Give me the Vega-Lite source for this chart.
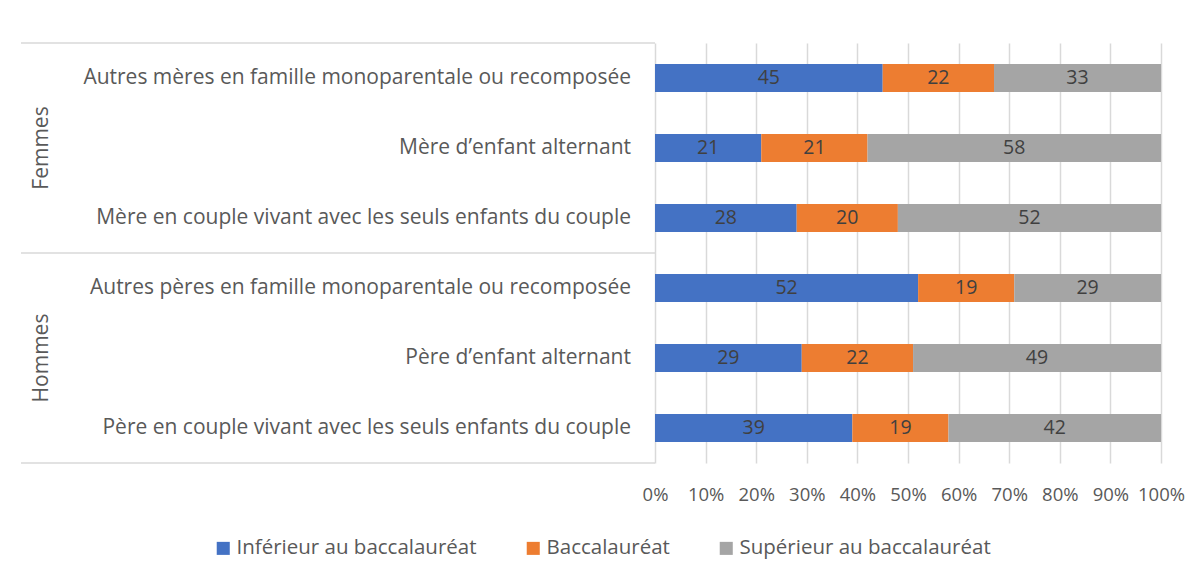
{
  "$schema": "https://vega.github.io/schema/vega-lite/v6.json",
  "padding": {"left": 20, "top": 42, "right": 10, "bottom": 10},
  "background": "white",
  "bounds": "flush",
  "config": {
    "font": "Open Sans",
    "view": {"stroke": null},
    "concat": {"spacing": 0},
    "legend": {"layout": {"bottom": {"anchor": "middle"}}}
  },
  "datasets": {
    "barres": [
      {"categorie": "Autres mères en famille monoparentale ou recomposée", "niveau": "Inférieur au baccalauréat", "rang": 1, "valeur": 45},
      {"categorie": "Autres mères en famille monoparentale ou recomposée", "niveau": "Baccalauréat", "rang": 2, "valeur": 22},
      {"categorie": "Autres mères en famille monoparentale ou recomposée", "niveau": "Supérieur au baccalauréat", "rang": 3, "valeur": 33},
      {"categorie": "Mère d’enfant alternant", "niveau": "Inférieur au baccalauréat", "rang": 1, "valeur": 21},
      {"categorie": "Mère d’enfant alternant", "niveau": "Baccalauréat", "rang": 2, "valeur": 21},
      {"categorie": "Mère d’enfant alternant", "niveau": "Supérieur au baccalauréat", "rang": 3, "valeur": 58},
      {"categorie": "Mère en couple vivant avec les seuls enfants du couple", "niveau": "Inférieur au baccalauréat", "rang": 1, "valeur": 28},
      {"categorie": "Mère en couple vivant avec les seuls enfants du couple", "niveau": "Baccalauréat", "rang": 2, "valeur": 20},
      {"categorie": "Mère en couple vivant avec les seuls enfants du couple", "niveau": "Supérieur au baccalauréat", "rang": 3, "valeur": 52},
      {"categorie": "Autres pères en famille monoparentale ou recomposée", "niveau": "Inférieur au baccalauréat", "rang": 1, "valeur": 52},
      {"categorie": "Autres pères en famille monoparentale ou recomposée", "niveau": "Baccalauréat", "rang": 2, "valeur": 19},
      {"categorie": "Autres pères en famille monoparentale ou recomposée", "niveau": "Supérieur au baccalauréat", "rang": 3, "valeur": 29},
      {"categorie": "Père d’enfant alternant", "niveau": "Inférieur au baccalauréat", "rang": 1, "valeur": 29},
      {"categorie": "Père d’enfant alternant", "niveau": "Baccalauréat", "rang": 2, "valeur": 22},
      {"categorie": "Père d’enfant alternant", "niveau": "Supérieur au baccalauréat", "rang": 3, "valeur": 49},
      {"categorie": "Père en couple vivant avec les seuls enfants du couple", "niveau": "Inférieur au baccalauréat", "rang": 1, "valeur": 39},
      {"categorie": "Père en couple vivant avec les seuls enfants du couple", "niveau": "Baccalauréat", "rang": 2, "valeur": 19},
      {"categorie": "Père en couple vivant avec les seuls enfants du couple", "niveau": "Supérieur au baccalauréat", "rang": 3, "valeur": 42}
    ],
    "libelles": [
      {"categorie": "Autres mères en famille monoparentale ou recomposée", "ligne": 1},
      {"categorie": "Mère d’enfant alternant", "ligne": 2},
      {"categorie": "Mère en couple vivant avec les seuls enfants du couple", "ligne": 3},
      {"categorie": "Autres pères en famille monoparentale ou recomposée", "ligne": 4},
      {"categorie": "Père d’enfant alternant", "ligne": 5},
      {"categorie": "Père en couple vivant avec les seuls enfants du couple", "ligne": 6}
    ],
    "groupes": [
      {"groupe": "Femmes", "centre": 2},
      {"groupe": "Hommes", "centre": 5}
    ],
    "separateurs": [
      {"limite": 0.5},
      {"limite": 3.5},
      {"limite": 6.5}
    ]
  },
  "hconcat": [
    {
      "width": 634,
      "height": 420,
      "layer": [
        {
          "data": {"name": "separateurs"},
          "mark": {"type": "rule", "color": "#d9d9d9", "strokeWidth": 1.5},
          "encoding": {
            "y": {"field": "limite", "type": "quantitative", "scale": {"domain": [0.5, 6.5], "reverse": true, "nice": false, "zero": false}, "axis": null}
          }
        },
        {
          "data": {"name": "libelles"},
          "mark": {"type": "text", "align": "right", "baseline": "middle", "dx": -24, "fontSize": 21, "color": "#595959"},
          "encoding": {
            "y": {"field": "ligne", "type": "quantitative", "axis": null},
            "x": {"datum": 1, "type": "quantitative", "scale": {"domain": [0, 1], "nice": false}, "axis": null},
            "text": {"field": "categorie"}
          }
        },
        {
          "data": {"name": "groupes"},
          "mark": {"type": "text", "angle": 270, "align": "center", "baseline": "middle", "fontSize": 21, "color": "#595959"},
          "encoding": {
            "y": {"field": "centre", "type": "quantitative", "axis": null},
            "x": {"datum": 0.033, "type": "quantitative", "axis": null},
            "text": {"field": "groupe"}
          }
        }
      ]
    },
    {
      "width": 506,
      "height": 420,
      "data": {"name": "barres"},
      "encoding": {
        "y": {
          "field": "categorie",
          "type": "nominal",
          "sort": [
            "Autres mères en famille monoparentale ou recomposée",
            "Mère d’enfant alternant",
            "Mère en couple vivant avec les seuls enfants du couple",
            "Autres pères en famille monoparentale ou recomposée",
            "Père d’enfant alternant",
            "Père en couple vivant avec les seuls enfants du couple"
          ],
          "scale": {"paddingInner": 0.6, "paddingOuter": 0.3},
          "axis": null
        }
      },
      "layer": [
        {
          "mark": {"type": "bar"},
          "encoding": {
            "x": {
              "field": "valeur",
              "type": "quantitative",
              "stack": "normalize",
              "scale": {"domain": [0, 1], "nice": false},
              "axis": {
                "values": [0, 0.1, 0.2, 0.3, 0.4, 0.5, 0.6, 0.7, 0.8, 0.9, 1],
                "format": ".0%",
                "grid": true,
                "gridColor": "#d9d9d9",
                "gridWidth": 1.5,
                "domain": false,
                "ticks": false,
                "labelFontSize": 18.5,
                "labelColor": "#595959",
                "labelPadding": 22,
                "labelOverlap": false,
                "labelFlush": false,
                "title": null
              }
            },
            "color": {
              "field": "niveau",
              "type": "nominal",
              "scale": {
                "domain": ["Inférieur au baccalauréat", "Baccalauréat", "Supérieur au baccalauréat"],
                "range": ["#4472C4", "#ED7D31", "#A5A5A5"]
              },
              "legend": {
                "orient": "bottom",
                "direction": "horizontal",
                "title": null,
                "symbolType": "square",
                "symbolSize": 170,
                "symbolStrokeWidth": 0,
                "labelFontSize": 20.5,
                "labelColor": "#595959",
                "labelLimit": 400,
                "labelOffset": 3,
                "columnPadding": 46,
                "offset": 34
              }
            },
            "order": {"field": "rang"}
          }
        },
        {
          "mark": {"type": "text", "fontSize": 19.5, "color": "#404040", "baseline": "middle"},
          "encoding": {
            "x": {"field": "valeur", "type": "quantitative", "stack": "normalize", "bandPosition": 0.5},
            "detail": {"field": "niveau"},
            "order": {"field": "rang"},
            "text": {"field": "valeur"}
          }
        }
      ]
    }
  ]
}
